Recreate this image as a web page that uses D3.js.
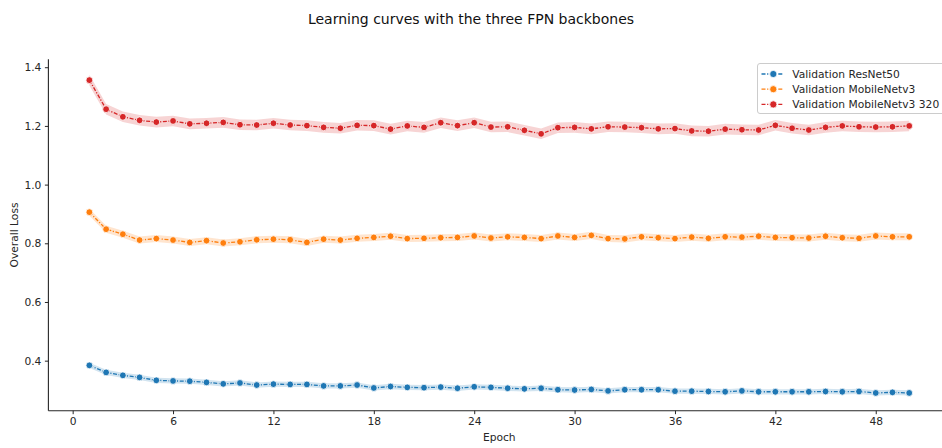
<!DOCTYPE html>
<html>
<head>
<meta charset="utf-8">
<script src="https://cdn.jsdelivr.net/npm/d3@7"></script>
<style>
  body { margin: 0; background: #fff; }
  svg { display: block; font-family: "DejaVu Sans", sans-serif; }
</style>
</head>
<body>
<svg id="chart" width="942" height="448"></svg>
<script>
// 에폭 1..50
const epochs = d3.range(1, 51);

const resnet50 = [
  0.384, 0.360, 0.350, 0.343, 0.333, 0.331, 0.330, 0.326, 0.321, 0.324,
  0.317, 0.320, 0.319, 0.319, 0.314, 0.314, 0.317, 0.307, 0.312, 0.309,
  0.308, 0.310, 0.306, 0.311, 0.309, 0.306, 0.304, 0.306, 0.301, 0.300,
  0.302, 0.297, 0.301, 0.301, 0.301, 0.296, 0.296, 0.295, 0.294, 0.297,
  0.294, 0.294, 0.294, 0.294, 0.295, 0.294, 0.295, 0.290, 0.292, 0.290
];
const mobilenet = [
  0.906, 0.848, 0.831, 0.811, 0.816, 0.811, 0.803, 0.809, 0.801, 0.805,
  0.812, 0.814, 0.812, 0.803, 0.814, 0.811, 0.817, 0.820, 0.824, 0.816,
  0.817, 0.819, 0.820, 0.825, 0.818, 0.822, 0.820, 0.816, 0.825, 0.820,
  0.827, 0.816, 0.815, 0.822, 0.819, 0.816, 0.821, 0.817, 0.822, 0.821,
  0.824, 0.820, 0.819, 0.818, 0.824, 0.819, 0.817, 0.825, 0.822, 0.822
];
const mobilenet320 = [
  1.356, 1.257, 1.231, 1.219, 1.213, 1.217, 1.207, 1.209, 1.212, 1.204,
  1.203, 1.209, 1.203, 1.201, 1.195, 1.192, 1.202, 1.201, 1.189, 1.200,
  1.195, 1.211, 1.201, 1.211, 1.196, 1.197, 1.185, 1.173, 1.194, 1.195,
  1.190, 1.197, 1.196, 1.194, 1.190, 1.191, 1.183, 1.182, 1.189, 1.187,
  1.186, 1.202, 1.192, 1.186, 1.195, 1.200, 1.197, 1.196, 1.197, 1.200
];
// 신뢰구간 반폭 (그림에서 추정)
const ciHalf = [0.009, 0.012, 0.018];

const seriesNames = ['Validation ResNet50', 'Validation MobileNetv3', 'Validation MobileNetv3 320'];
const seriesColors = ['#1f77b4', '#ff7f0e', '#d62728'];
const xTicks = [0, 6, 12, 18, 24, 30, 36, 42, 48];
const yTicks = [0.4, 0.6, 0.8, 1.0, 1.2, 1.4];

const series = [resnet50, mobilenet, mobilenet320].map((vals, i) => ({
  name: seriesNames[i], color: seriesColors[i], half: ciHalf[i],
  points: vals.map((v, j) => ({ x: epochs[j], y: v }))
}));

// ── 레이아웃 ──────────────────────────────────────────────
const M = { left: 48.4, right: 950.2, top: 59.3, bottom: 410.7 };
const x = d3.scaleLinear().domain([-1.45, 52.45]).range([M.left, M.right]);
const y = d3.scaleLinear().domain([0.2295, 1.427]).range([M.bottom, M.top]);

const svg = d3.select('#chart');
const INK = '#262626';
const FS = 10.7;

// 제목
svg.append('text')
  .attr('x', 471).attr('y', 24)
  .attr('text-anchor', 'middle')
  .attr('font-size', 14).attr('fill', '#111')
  .text('Learning curves with the three FPN backbones');

// 밴드 + 선 + 마커
const plot = svg.append('g');
const area = d3.area()
  .x(d => x(d.x))
  .y0(d => y(d.lo)).y1(d => y(d.hi));
const line = d3.line().x(d => x(d.x)).y(d => y(d.y));

series.forEach(s => {
  plot.append('path')
    .datum(s.points.map(p => ({ x: p.x, lo: p.y - s.half, hi: p.y + s.half })))
    .attr('d', area)
    .attr('fill', s.color).attr('fill-opacity', 0.2)
    .attr('stroke', 'none');
});

series.forEach(s => {
  plot.append('path')
    .datum(s.points)
    .attr('d', line)
    .attr('fill', 'none')
    .attr('stroke', s.color)
    .attr('stroke-width', 1.3)
    .attr('stroke-dasharray', '4,1.6,1.2,1.6');
  plot.selectAll(null)
    .data(s.points)
    .join('circle')
    .attr('cx', d => x(d.x)).attr('cy', d => y(d.y))
    .attr('r', 3.4)
    .attr('fill', s.color)
    .attr('stroke', '#fff').attr('stroke-width', 0.8);
});

// ── 축 ──────────────────────────────────────────────
const xAxis = svg.append('g')
  .attr('transform', `translate(0,${M.bottom})`)
  .call(d3.axisBottom(x).tickValues(xTicks).tickFormat(d3.format('d')).tickSize(3.5).tickPadding(3.5));
const yAxis = svg.append('g')
  .attr('transform', `translate(${M.left},0)`)
  .call(d3.axisLeft(y).tickValues(yTicks).tickFormat(d3.format('.1f')).tickSize(3.5).tickPadding(3.5));

[xAxis, yAxis].forEach(ax => {
  ax.select('.domain').attr('stroke', INK).attr('stroke-width', 1.1);
  ax.selectAll('.tick line').attr('stroke', INK).attr('stroke-width', 1);
  ax.selectAll('.tick text')
    .attr('fill', INK).attr('font-size', FS)
    .attr('font-family', '"DejaVu Sans", sans-serif');
});
// 스파인 길이 맞추기 (바깥 tick 없이)
xAxis.select('.domain').attr('d', `M${M.left},0H${M.right}`);
yAxis.select('.domain').attr('d', `M0,${M.bottom}V${M.top}`);

svg.append('text')
  .attr('x', (M.left + M.right) / 2).attr('y', 440.5)
  .attr('text-anchor', 'middle')
  .attr('font-size', FS).attr('fill', INK)
  .text('Epoch');

svg.append('text')
  .attr('transform', `translate(17.5,${(M.top + M.bottom) / 2}) rotate(-90)`)
  .attr('text-anchor', 'middle')
  .attr('font-size', FS).attr('fill', INK)
  .text('Overall Loss');

// ── 범례 ──────────────────────────────────────────────
const lg = svg.append('g').attr('transform', 'translate(757.5,63.5)');
lg.append('rect')
  .attr('width', 200).attr('height', 50)
  .attr('rx', 2.5)
  .attr('fill', '#fff').attr('fill-opacity', 0.8)
  .attr('stroke', '#cccccc').attr('stroke-width', 1);

series.forEach((s, i) => {
  const cy = 10.5 + i * 15.2;
  lg.append('line')
    .attr('x1', 4).attr('x2', 26)
    .attr('y1', cy).attr('y2', cy)
    .attr('stroke', s.color).attr('stroke-width', 1.3)
    .attr('stroke-dasharray', '4,1.6,1.2,1.6');
  lg.append('circle')
    .attr('cx', 15.8).attr('cy', cy).attr('r', 3.6)
    .attr('fill', s.color).attr('stroke', '#fff').attr('stroke-width', 0.8);
  lg.append('text')
    .attr('x', 34.8).attr('y', cy)
    .attr('dy', '0.35em')
    .attr('font-size', FS).attr('fill', INK)
    .text(s.name);
});
</script>
</body>
</html>
